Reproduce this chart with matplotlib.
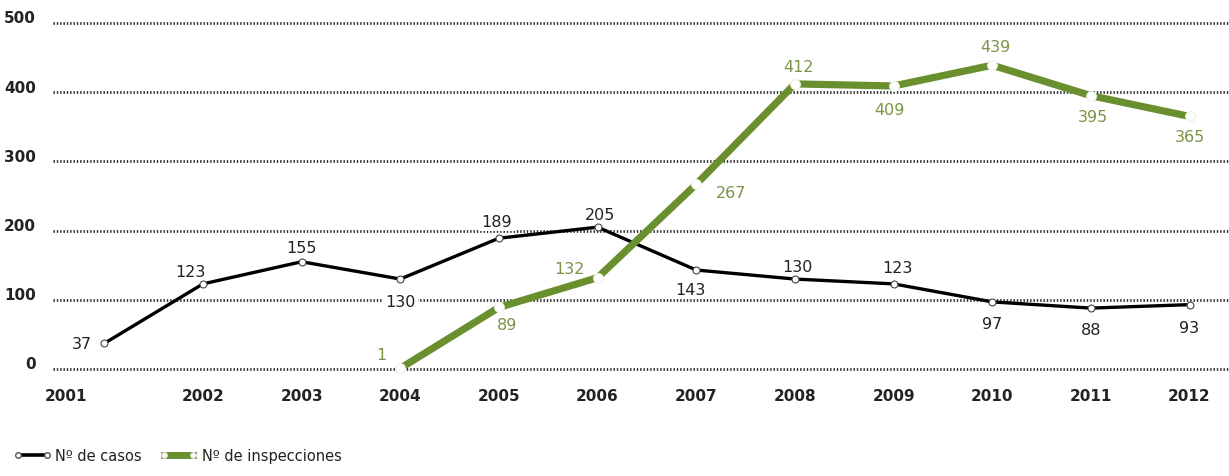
import matplotlib.pyplot as plt
from matplotlib.lines import Line2D

years = ['2001', '2002', '2003', '2004', '2005', '2006',
         '2007', '2008', '2009', '2010', '2011', '2012']
casos = [37, 123, 155, 130, 189, 205, 143, 130, 123, 97, 88, 93]
insp_years = ['2004', '2005', '2006', '2007', '2008', '2009', '2010', '2011', '2012']
inspecciones = [1, 89, 132, 267, 412, 409, 439, 395, 365]
yticks = [0, 100, 200, 300, 400, 500]

# label offsets in pixels (dx, dy), relative to each point
casos_off = [(-22, 0), (-13, 12), (0, 14), (0, -22), (-2, 17), (2, 13),
             (-6, -19), (3, 13), (4, 16), (0, -22), (0, -21), (0, -23)]
insp_off = [(-19, 14), (8, -17), (-28, 9), (35, -8), (4, 17),
            (-4, -24), (3, 19), (2, -21), (0, -20)]
boxed = {3, 4}  # casos labels sitting on a gridline

GREEN = '#6a8f2e'
FONT = ['Liberation Sans Narrow', 'DejaVu Sans']
plt.rcParams['font.family'] = FONT

fig = plt.figure(figsize=(12.29, 4.77), dpi=100)
ax = fig.add_axes([53 / 1229, 1 - 370 / 477, 1 - 53 / 1229, (370 - 24) / 477])

xc = list(range(len(years)))
xi = [years.index(y) for y in insp_years]

for v in yticks:
    ax.axhline(v, color='#2a2a2a', lw=2.0, ls=(0, (0.5, 0.7)), zorder=1,
               clip_on=False)

ax.plot(xc, casos, color='black', lw=2.4, marker='o', ms=5,
        mfc='white', mec='#444444', mew=0.8, zorder=3, clip_on=False)
ax.plot(xi, inspecciones, color=GREEN, lw=5.2, marker='o', ms=7,
        mfc='white', mec='#eef3e4', mew=0.8, zorder=4, clip_on=False)

for i, (x, v) in enumerate(zip(xc, casos)):
    bb = dict(facecolor='white', edgecolor='none', pad=2) if i in boxed else None
    ax.annotate(str(v), (x, v), xytext=casos_off[i], textcoords='offset pixels',
                ha='center', va='center', fontsize=11.5, color='#222222',
                bbox=bb, zorder=5)
for i, (x, v) in enumerate(zip(xi, inspecciones)):
    ax.annotate(str(v), (x, v), xytext=insp_off[i], textcoords='offset pixels',
                ha='center', va='center', fontsize=11.5, color='#7a9446', zorder=5)

ax.set_xlim(-0.52, 11.4)
ax.set_ylim(0, 500)
for s in ax.spines.values():
    s.set_visible(False)
ax.set_xticks([])
ax.set_yticks([])

# y tick labels
for v in yticks:
    ax.annotate(str(v), (0, v), xycoords=('figure pixels', 'data'),
                xytext=(36, 5), textcoords='offset pixels',
                ha='right', va='center', fontsize=11, fontweight='bold',
                color='#222222')
# x tick labels (first one sits further left, as in the source)
for i, y in enumerate(years):
    xpos = -0.39 if i == 0 else i
    ax.annotate(y, (xpos, 0), xytext=(0, -27), textcoords='offset pixels',
                ha='center', va='center', fontsize=11, fontweight='bold',
                color='#222222')

handles = [
    Line2D([], [], color='black', lw=2.6, marker='o', ms=4, mfc='white',
           mec='#555555', markevery=[0, -1]),
    Line2D([], [], color=GREEN, lw=5, marker='o', ms=4, mfc='white',
           mec='#dddddd', markevery=[0, -1]),
]
fig.legend(handles, ['Nº de casos', 'Nº de inspecciones'], loc='lower left',
           bbox_to_anchor=(0.0, 0.0), ncol=2, frameon=False, fontsize=10.5,
           handlelength=2.6, handletextpad=0.3, columnspacing=1.2, numpoints=2,
           labelcolor='#222222')

fig.savefig('out.png', dpi=100)
